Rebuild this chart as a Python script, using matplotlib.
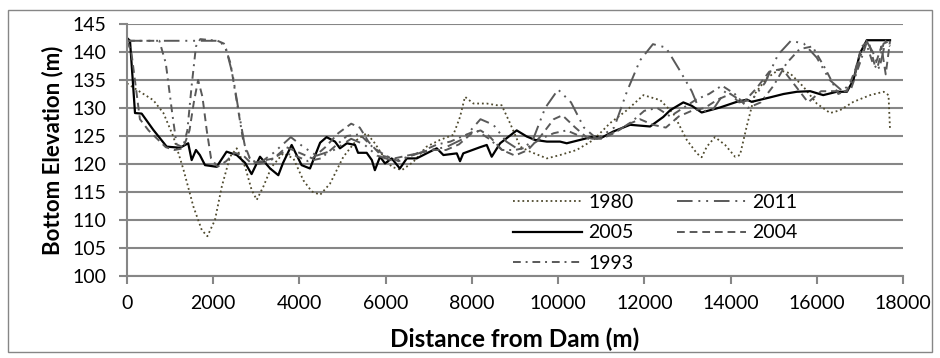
import matplotlib
matplotlib.use("Agg")
import matplotlib.pyplot as plt
from matplotlib.patches import Rectangle

plt.rcParams['font.family'] = ['Lato', 'DejaVu Sans']

# --- data (distance m, elevation m) ---
d1980 = [0, 300, 610, 845, 1075, 1310, 1540, 1735, 1865, 2040, 2200, 2390, 2545, 2740, 2890,
         3010, 3165, 3355, 3625, 3860, 4090, 4285, 4480, 4710, 5020, 5330, 5560, 5750, 5950,
         6140, 6375, 6645, 6950, 7260, 7570, 7725, 7840, 8035, 8345, 8575, 8690, 8885, 9120,
         9350, 9740, 10045, 10430, 10820, 11205, 11595, 11980, 12370, 12675, 12985, 13220,
         13330, 13450, 13640, 13875, 14105, 14220, 14375, 14570, 14840, 15110, 15380, 15690,
         16000, 16310, 16540, 16850, 17240, 17550, 17665, 17700]
e1980 = [134.4, 132.9, 131.4, 129.1, 124.9, 119, 112.4, 108.2, 107.1, 110, 116, 121.3, 122.8,
         119.5, 115.4, 113.6, 116, 119.5, 121.9, 121, 117.1, 115.1, 114.5, 116.5, 121.3, 124.3,
         125.5, 123.7, 121.3, 119.5, 118.9, 120.4, 123.1, 124.3, 125.2, 128.4, 132, 130.8,
         130.8, 130.5, 130.5, 127.3, 123.1, 122.2, 121, 121.6, 122.5, 124.3, 127.3, 129.6,
         132.3, 131.4, 129, 124.3, 121.9, 121.2, 123.1, 124.8, 123.4, 121.3, 121.6, 126.7,
         132.6, 135.3, 136.8, 136.2, 133.8, 130.8, 129.1, 129.6, 131.1, 132.3, 132.9, 132.3, 126.1]

d2005 = [0, 70, 186, 340, 610, 920, 1230, 1420, 1500, 1600, 1690, 1810, 2080, 2310, 2545, 2740,
         2890, 3085, 3320, 3510, 3620, 3820, 4050, 4245, 4480, 4630, 4825, 4940, 5100, 5290,
         5360, 5560, 5680, 5750, 5870, 5985, 6140, 6330, 6490, 6720, 6950, 7185, 7340, 7650,
         7725, 7800, 8190, 8345, 8460, 8655, 9040, 9275, 9465, 9740, 10045, 10200, 10510,
         10820, 11010, 11280, 11670, 12135, 12440, 12600, 12905, 13100, 13330, 13760, 14145,
         14380, 14490, 14920, 15230, 15540, 15850, 16150, 16465, 16700, 16850, 17005, 17160, 17700]
e2005 = [142.5, 142, 129.1, 129, 126.1, 123.1, 122.9, 123.7, 120.7, 122.5, 121.6, 119.8, 119.5,
         122.2, 121.6, 120.2, 118.2, 121.3, 119.2, 118, 120.2, 123.4, 119.8, 119.2, 123.8,
         124.8, 124, 122.8, 123.7, 123.4, 122, 122, 120.7, 118.9, 121.3, 120.1, 121, 119.2,
         121, 121, 121.9, 122.8, 121.6, 121.9, 120.5, 121.9, 123, 123.4, 121.3, 123.7, 126,
         124.9, 124.3, 124, 124, 123.7, 124.3, 124.9, 124.7, 125.8, 127, 126.7, 128.4, 129.6,
         131, 130.4, 129.2, 130.1, 131.1, 131.5, 131.1, 131.9, 132.5, 132.9, 133, 132.3, 132.9,
         132.9, 135, 139.8, 142.1, 142.1]

d1993 = [0, 750, 900, 1050, 1150, 1300, 1400, 1500, 1600, 1700, 2100, 2250, 2400, 2550, 2700,
         2850, 3050, 3300, 3600, 3900, 4200, 4500, 4800, 5100, 5400, 5700, 6000, 6300, 6600,
         6900, 7200, 7500, 7800, 8100, 8400, 8700, 9000, 9300, 9600, 9900, 10200, 10500, 10800,
         11100, 11400, 11700, 12000, 12300, 12600, 12900, 13200, 13500, 13800, 14100, 14400,
         14700, 15000, 15300, 15600, 15900, 16200, 16500, 16800, 17000, 17150, 17300, 17400,
         17550, 17700]
e1993 = [142, 142, 138, 129, 123.5, 123, 126, 134, 141, 142.3, 142, 141.5, 138, 131, 124,
         121, 120, 120.5, 122, 121.5, 120.5, 121, 123, 125, 125.3, 123, 121.5, 120.5, 121.5,
         122.5, 123.5, 124, 125, 126, 124.5, 122.5, 122.5, 123, 124.5, 125.5, 126, 125, 124.5,
         125, 126, 127.5, 129.5, 130, 128.5, 130, 131.5, 132.5, 134, 132.5, 130, 131, 134,
         138, 140.5, 141, 137, 132.5, 133.5, 138, 141.5, 138, 137, 141.5, 142]

d2011 = [0, 2150, 2300, 2450, 2600, 2750, 2850, 3050, 3400, 3800, 4100, 4400, 4800, 5200, 5500,
         5800, 6200, 6600, 7000, 7400, 7800, 8200, 8500, 8800, 9100, 9400, 9700, 10000, 10300,
         10600, 10900, 11300, 11600, 11900, 12200, 12500, 12800, 13100, 13300, 13600, 13900,
         14200, 14500, 14800, 15100, 15400, 15700, 16000, 16300, 16600, 16850, 17000, 17150,
         17300, 17450, 17600, 17700]
e2011 = [142, 142, 140.5, 136, 129, 122.5, 121, 120, 122, 124.8, 123, 121.5, 122.5, 124.5, 123.5,
         121.5, 120.5, 121.5, 122.5, 123, 124.5, 128, 127, 124, 122.5, 124, 130, 133.3, 131,
         126.5, 124.5, 126.5, 133, 138.5, 141.4, 140.8, 137, 133, 129.3, 129.8, 133.2, 131,
         131.5, 134.5, 139.5, 142, 141.5, 139, 135, 133, 135, 139, 142, 140, 137, 142, 141]

d2004 = [0, 100, 200, 300, 500, 700, 900, 1100, 1300, 1450, 1550, 1650, 1750, 1850, 1950, 2100,
         2300, 2500, 2700, 2900, 3100, 3400, 3700, 4000, 4300, 4600, 4900, 5200, 5400, 5600,
         5900, 6200, 6500, 6800, 7100, 7400, 7700, 8000, 8200, 8400, 8700, 9000, 9300, 9600,
         9900, 10100, 10400, 10700, 11000, 11300, 11600, 11900, 12200, 12500, 12800, 13100,
         13400, 13700, 14000, 14300, 14600, 14900, 15200, 15500, 15800, 16100, 16400, 16700,
         16900, 17050, 17200, 17350, 17500, 17600, 17700]
e2004 = [142, 140, 134, 128, 126, 124.5, 123, 122.5, 122.8, 126, 131, 135, 132, 126, 121, 119.5,
         120.5, 122, 121.5, 120, 120.5, 121, 123, 122, 121, 123, 125.5, 127.2, 126.5, 124,
         121.5, 121, 121.5, 122, 122.5, 122.5, 123.5, 125.5, 126, 125, 122.5, 121.5, 122.5,
         125, 128, 128.7, 126.5, 124.5, 124.5, 125.5, 127, 128, 127, 126.5, 128.5, 129.5, 130,
         131.5, 132.5, 131, 133.5, 136.5, 137, 134, 131, 133, 133, 133, 137, 141, 142, 137.5,
         141, 136, 142]

xticks = list(range(0, 18001, 2000))
yticks = list(range(100, 146, 5))

fig = plt.figure(figsize=(9.4, 3.58), dpi=100)
fig.patches.append(Rectangle((0.0085, 0.017), 0.983, 0.955, transform=fig.transFigure,
                             fill=False, edgecolor='#868686', linewidth=1.0))
ax = fig.add_axes([0.1351, 0.229, 0.8255, 0.704])

gray = '#595959'
ax.plot(d1980, e1980, color='#4f4a2e', lw=1.3, ls=(0, (1, 1.6)), label='1980')
ax.plot(d2005, e2005, color='black', lw=1.6, ls='-', label='2005')
ax.plot(d1993, e1993, color=gray, lw=1.4, ls=(0, (4, 2.5, 1, 2.5)), label='1993')
ax.plot(d2011, e2011, color=gray, lw=1.4, ls=(0, (8, 3, 1, 3, 1, 3)), label='2011')
ax.plot(d2004, e2004, color=gray, lw=1.4, ls=(0, (4, 2.5)), label='2004')

ax.set_xlim(0, 18000)
ax.set_ylim(100, 145)
ax.set_xticks(xticks)
ax.set_yticks(yticks)
ax.grid(axis='y', color='#868686', lw=1.5)
ax.set_axisbelow(True)
for s in ['top', 'right']:
    ax.spines[s].set_visible(False)
for s in ['left', 'bottom']:
    ax.spines[s].set_color('#868686')
    ax.spines[s].set_linewidth(1.5)
ax.tick_params(axis='both', colors='#868686', labelcolor='black', labelsize=14,
               length=6, width=1.5)
ax.tick_params(axis='x', pad=8)
ax.tick_params(axis='y', pad=9)

ax.set_xlabel('Distance from Dam (m)', fontsize=17.5, fontweight='bold', labelpad=11)
ax.set_ylabel('Bottom Elevation (m)', fontsize=16, fontweight='bold', labelpad=6)

ax.legend(ncol=2, frameon=False, loc='upper left', bbox_to_anchor=(0.497, 0.325),
          borderpad=0, borderaxespad=0, fontsize=14, handlelength=3.55,
          columnspacing=2.2, labelspacing=0.68, handletextpad=0.35)

fig.savefig('out.png', dpi=100)
